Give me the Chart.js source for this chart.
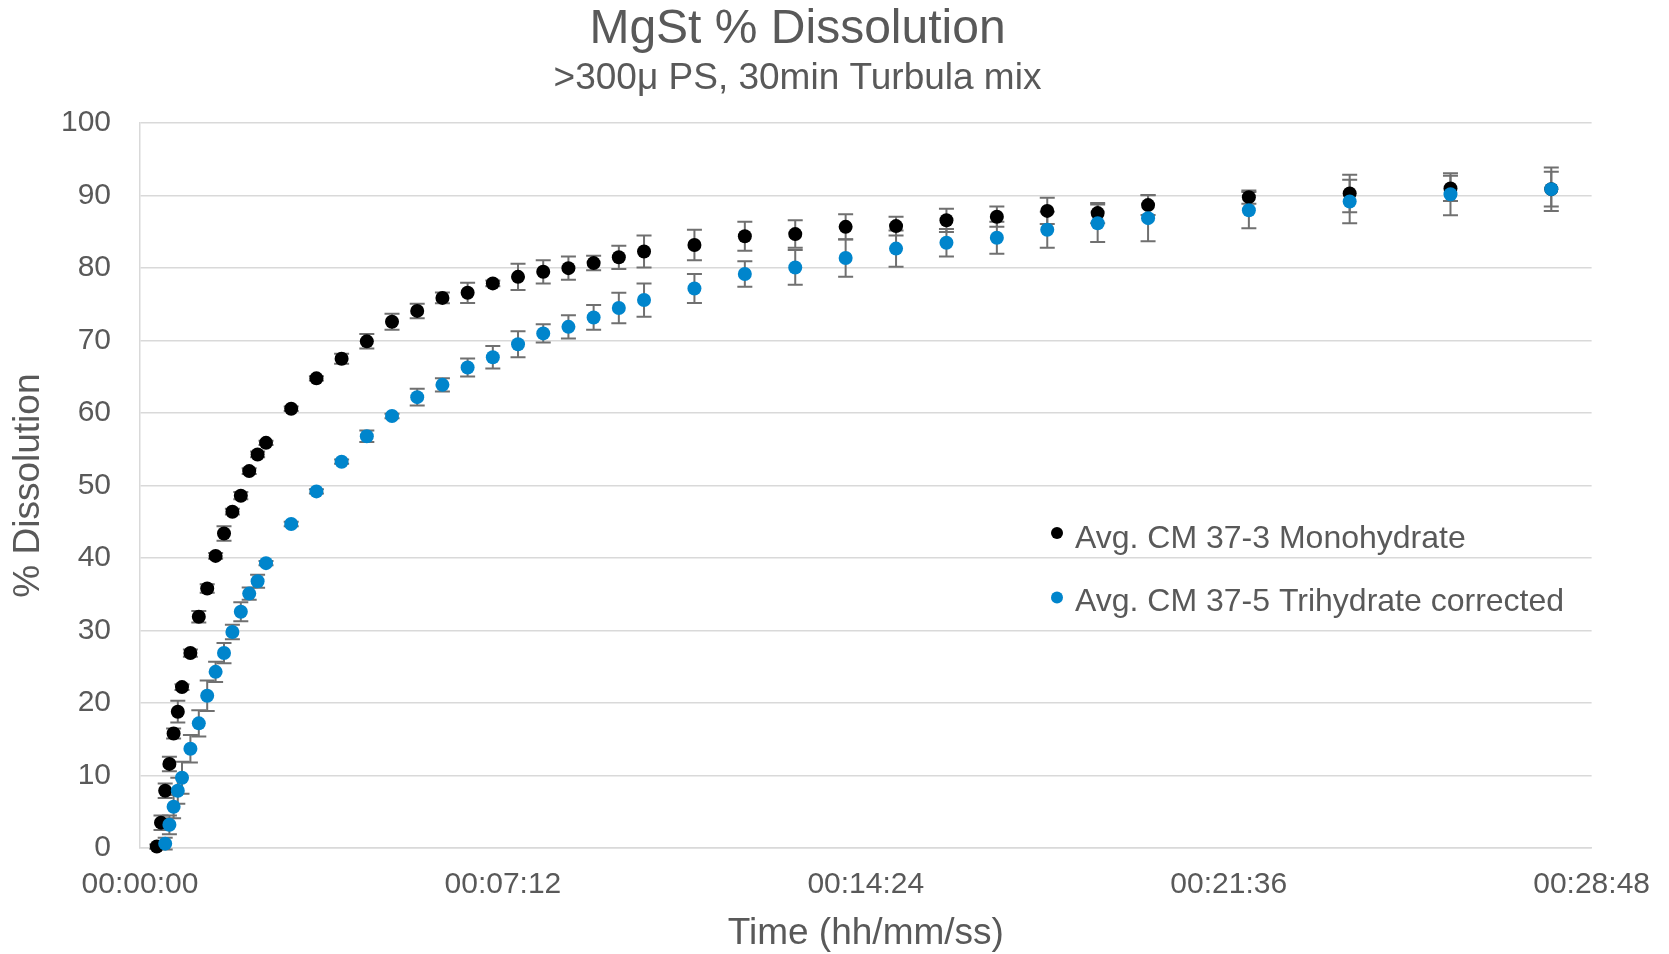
<!DOCTYPE html>
<html>
<head>
<meta charset="utf-8">
<title>MgSt % Dissolution</title>
<script src="https://cdn.jsdelivr.net/npm/chart.js@4.4.1/dist/chart.umd.min.js"></script>
<style>
  html, body { margin: 0; padding: 0; background: #ffffff; }
  #wrap { width: 1669px; height: 954px; }
</style>
</head>
<body>
<div id="wrap"><canvas id="dissolutionChart" width="1669" height="954"></canvas></div>
<script>
// sampling times in seconds
const monoTimes = [20, 25, 30, 35, 40, 45, 50, 60, 70, 80, 90, 100, 110, 120, 130, 140, 150,
  180, 210, 240, 270, 300, 330, 360, 390, 420, 450, 480, 510, 540, 570, 600,
  660, 720, 780, 840, 900, 960, 1020, 1080, 1140, 1200, 1320, 1440, 1560, 1680];
const monoValues = [0.2, 3.5, 7.9, 11.6, 15.8, 18.8, 22.2, 26.9, 31.9, 35.8, 40.3, 43.4, 46.4, 48.6, 52.0, 54.3, 55.9,
  60.6, 64.8, 67.5, 69.9, 72.6, 74.1, 75.9, 76.6, 77.9, 78.8, 79.5, 80.0, 80.7, 81.5, 82.3,
  83.2, 84.4, 84.7, 85.7, 85.8, 86.6, 87.1, 87.9, 87.6, 88.7, 89.8, 90.3, 91.0, 90.9];
const monoErrors = [0.3, 1.0, 1.0, 1.0, 0.7, 1.5, 0.4, 0.5, 0.8, 0.6, 0.4, 1.0, 0.4, 0.5, 0.4, 0.4, 0.3,
  0.3, 0.3, 0.7, 1.0, 1.1, 1.0, 0.75, 1.4, 0.4, 1.8, 1.6, 1.6, 1.0, 1.6, 2.2,
  2.1, 2.0, 1.9, 1.75, 1.3, 1.6, 1.4, 1.8, 1.4, 1.35, 0.9, 2.6, 1.75, 3.0];

const triTimes = [30, 35, 40, 45, 50, 60, 70, 80, 90, 100, 110, 120, 130, 140, 150,
  180, 210, 240, 270, 300, 330, 360, 390, 420, 450, 480, 510, 540, 570, 600,
  660, 720, 780, 840, 900, 960, 1020, 1080, 1140, 1200, 1320, 1440, 1560, 1680];
const triValues = [0.6, 3.2, 5.7, 7.9, 9.7, 13.7, 17.2, 21.0, 24.3, 26.9, 29.8, 32.6, 35.1, 36.8, 39.3,
  44.7, 49.2, 53.3, 56.8, 59.6, 62.2, 63.9, 66.3, 67.7, 69.5, 71.0, 71.9, 73.2, 74.5, 75.6,
  77.2, 79.2, 80.1, 81.4, 82.7, 83.5, 84.2, 85.3, 86.2, 86.9, 88.0, 89.2, 90.2, 90.9];
const triErrors = [0.8, 1.3, 1.6, 1.8, 2.2, 1.9, 1.8, 2.1, 1.4, 1.4, 1.0, 1.3, 0.85, 0.9, 0.3,
  0.3, 0.3, 0.3, 0.8, 0.3, 1.15, 0.9, 1.25, 1.55, 1.8, 1.25, 1.6, 1.7, 2.1, 2.3,
  2.0, 1.75, 2.4, 2.6, 2.5, 1.9, 2.2, 2.5, 2.6, 3.2, 2.5, 3.0, 2.9, 2.4];

const xTicks = [0, 432, 864, 1296, 1728];
const seriesNames = ['Avg. CM 37-3 Monohydrate', 'Avg. CM 37-5 Trihydrate corrected'];
const seriesColors = ['#000000', '#0085cc'];

const FONT = '"Liberation Sans", Arial, sans-serif';
const GREY_TEXT = '#595959';
const GRID = '#d9d9d9';

function toPoints(times, values) {
  return times.map((t, i) => ({ x: t, y: values[i] }));
}

function hhmmss(sec) {
  const h = Math.floor(sec / 3600);
  const m = Math.floor((sec % 3600) / 60);
  const s = Math.round(sec % 60);
  const pad = n => String(n).padStart(2, '0');
  return pad(h) + ':' + pad(m) + ':' + pad(s);
}

// vertical error bars with caps, drawn under the markers
const errorBars = {
  id: 'errorBars',
  beforeDatasetsDraw(chart) {
    const { ctx, scales: { x, y } } = chart;
    ctx.save();
    ctx.strokeStyle = '#707070';
    ctx.lineWidth = 2;
    chart.data.datasets.forEach(ds => {
      ds.data.forEach((p, i) => {
        const e = ds.errorBars[i];
        const px = x.getPixelForValue(p.x);
        const top = y.getPixelForValue(p.y + e);
        const bot = y.getPixelForValue(p.y - e);
        ctx.beginPath();
        ctx.moveTo(px, top); ctx.lineTo(px, bot);
        ctx.moveTo(px - 7.5, top); ctx.lineTo(px + 7.5, top);
        ctx.moveTo(px - 7.5, bot); ctx.lineTo(px + 7.5, bot);
        ctx.stroke();
      });
    });
    ctx.restore();
  }
};

// legend sitting inside the plot area, right side
const insideLegend = {
  id: 'insideLegend',
  afterDraw(chart) {
    const ctx = chart.ctx;
    ctx.save();
    ctx.font = '32px ' + FONT;
    ctx.textBaseline = 'alphabetic';
    ctx.textAlign = 'left';
    const rows = [{ my: 533, ty: 548 }, { my: 597.5, ty: 610.5 }];
    seriesNames.forEach((name, i) => {
      ctx.fillStyle = seriesColors[i];
      ctx.beginPath();
      ctx.arc(1057, rows[i].my, 6, 0, Math.PI * 2);
      ctx.fill();
      ctx.fillStyle = GREY_TEXT;
      ctx.fillText(name, 1075, rows[i].ty);
    });
    ctx.restore();
  }
};

const ctx = document.getElementById('dissolutionChart').getContext('2d');
new Chart(ctx, {
  type: 'scatter',
  data: {
    datasets: [{
      label: seriesNames[0],
      data: toPoints(monoTimes, monoValues),
      errorBars: monoErrors,
      backgroundColor: seriesColors[0],
      borderWidth: 0,
      pointRadius: 7,
      clip: false,
      order: 1
    }, {
      label: seriesNames[1],
      data: toPoints(triTimes, triValues),
      errorBars: triErrors,
      backgroundColor: seriesColors[1],
      borderWidth: 0,
      pointRadius: 7,
      clip: false,
      order: 0
    }]
  },
  options: {
    responsive: false,
    animation: false,
    layout: { padding: { left: 0, right: 74, top: 0, bottom: 0 } },
    plugins: {
      legend: { display: false },
      tooltip: { enabled: false },
      title: {
        display: true,
        text: 'MgSt % Dissolution',
        color: GREY_TEXT,
        font: { family: FONT, size: 48, weight: 'normal', lineHeight: 1.1 },
        padding: { top: 3, bottom: 0 }
      },
      subtitle: {
        display: true,
        text: '>300μ PS, 30min Turbula mix',
        color: GREY_TEXT,
        font: { family: FONT, size: 37, weight: 'normal', lineHeight: 1.2 },
        padding: { top: 1, bottom: 22 }
      }
    },
    scales: {
      x: {
        type: 'linear',
        min: 0,
        max: 1728,
        afterFit: scale => { scale.height = 106; },
        afterBuildTicks: scale => { scale.ticks = xTicks.map(v => ({ value: v })); },
        grid: { display: false, drawTicks: false },
        border: { display: true, color: GRID, width: 1.5 },
        ticks: {
          color: GREY_TEXT,
          font: { family: FONT, size: 30 },
          padding: 19,
          maxRotation: 0,
          callback: v => hhmmss(v)
        },
        title: {
          display: true,
          text: 'Time (hh/mm/ss)',
          color: GREY_TEXT,
          font: { family: FONT, size: 37 },
          padding: { top: 0, bottom: -2 }
        }
      },
      y: {
        min: 0,
        max: 100,
        afterFit: scale => { scale.width = 140; },
        grid: { color: GRID, lineWidth: 1.5, drawTicks: false },
        border: { display: true, color: GRID, width: 1.5 },
        ticks: {
          stepSize: 10,
          color: GREY_TEXT,
          font: { family: FONT, size: 30 },
          padding: 29
        },
        title: {
          display: true,
          text: '% Dissolution',
          color: GREY_TEXT,
          font: { family: FONT, size: 37 },
          padding: { top: 7, bottom: 0 }
        }
      }
    }
  },
  plugins: [errorBars, insideLegend]
});
</script>
</body>
</html>
